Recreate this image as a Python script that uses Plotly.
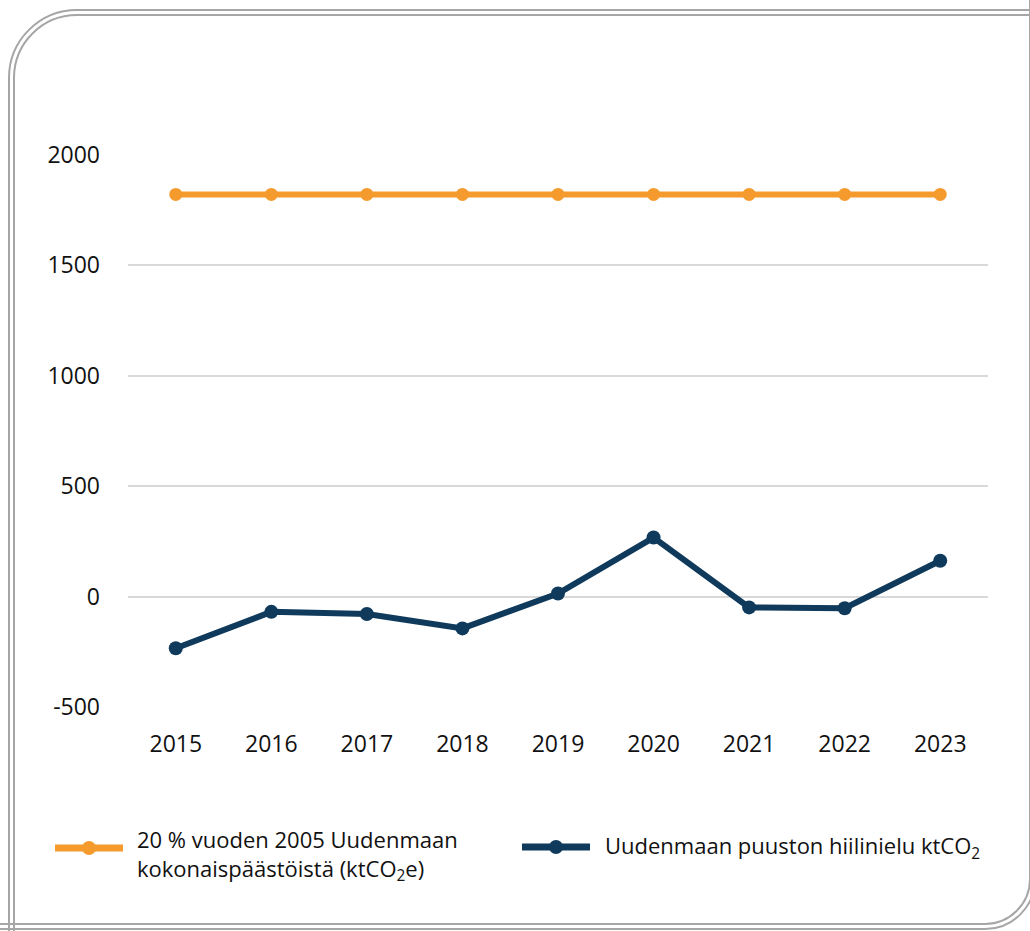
"""Uudenmaan puuston hiilinielu vs. 20 % vuoden 2005 kokonaispäästöistä."""

import plotly.graph_objects as go

# ── data ──
years = ["2015", "2016", "2017", "2018", "2019", "2020", "2021", "2022", "2023"]
target_20pct = [1820, 1820, 1820, 1820, 1820, 1820, 1820, 1820, 1820]
carbon_sink = [-233, -68, -78, -143, 15, 268, -48, -52, 163]
y_ticks = [-500, 0, 500, 1000, 1500, 2000]
y_ticktext = ["-500", "0", "500", "1000", "1500", "2000"]

name_target = "20 % vuoden 2005 Uudenmaan<br>kokonaispäästöistä (ktCO<sub>2</sub>e)"
name_sink = "Uudenmaan puuston hiilinielu ktCO<sub>2</sub>"

ORANGE = "#F59B2E"
NAVY = "#0F3A5C"
FONT = "Open Sans"
TEXT = "#111111"

# ── canvas / plot area in pixels ──
W, H = 1030, 931
L, R, T, B = 128, 42, 154, 223
PW, PH = W - L - R, H - T - B


def px(x):
    return (x - L) / PW


def py(y):
    return (H - B - y) / PH


fig = go.Figure()

fig.add_trace(go.Scatter(
    x=years, y=target_20pct, mode="lines+markers",
    line=dict(color=ORANGE, width=6),
    marker=dict(size=13, color=ORANGE),
    showlegend=False, name="20 %",
))
fig.add_trace(go.Scatter(
    x=years, y=carbon_sink, mode="lines+markers",
    line=dict(color=NAVY, width=6),
    marker=dict(size=14, color=NAVY),
    showlegend=False, name="hiilinielu",
))

shapes = []

# ── käsin tehty selite ──
for (x0, x1, yc, color) in [(55, 123, 848, ORANGE), (522, 590, 847, NAVY)]:
    shapes.append(dict(
        type="line", xref="paper", yref="paper",
        x0=px(x0), x1=px(x1), y0=py(yc), y1=py(yc),
        line=dict(color=color, width=7),
    ))
    cx = (x0 + x1) / 2
    rad = 7
    shapes.append(dict(
        type="circle", xref="paper", yref="paper",
        x0=px(cx - rad), x1=px(cx + rad), y0=py(yc + rad), y1=py(yc - rad),
        fillcolor=color, line=dict(color=color, width=0),
    ))

fig.add_annotation(
    x=px(135), y=py(855), xref="paper", yref="paper",
    text=name_target, showarrow=False, xanchor="left", yanchor="middle",
    align="left", font=dict(family=FONT, size=22, color=TEXT),
)
fig.add_annotation(
    x=px(603), y=py(847), xref="paper", yref="paper",
    text=name_sink, showarrow=False, xanchor="left", yanchor="middle",
    align="left", font=dict(family=FONT, size=22, color=TEXT),
)

# ── kaksoisreunus pyöristetyin kulmin ──
K = 0.5523


def border_path(off, r_tl, r_br):
    # vasen ylänurkka
    lx, ty = 9 + off, 10 + off
    bx, by = 985, 929 - off
    p = []
    p.append(f"M{px(lx)},{py(H + 10)}")
    p.append(f"L{px(lx)},{py(ty + r_tl)}")
    p.append(
        f"C{px(lx)},{py(ty + r_tl - K * r_tl)} "
        f"{px(lx + r_tl - K * r_tl)},{py(ty)} "
        f"{px(lx + r_tl)},{py(ty)}"
    )
    p.append(f"L{px(W + 10)},{py(ty)}")
    tl = " ".join(p)
    # oikea alanurkka
    q = []
    q.append(f"M{px(-10)},{py(by)}")
    q.append(f"L{px(bx)},{py(by)}")
    q.append(
        f"C{px(bx + K * r_br)},{py(by)} "
        f"{px(bx + r_br)},{py(by - r_br + K * r_br)} "
        f"{px(bx + r_br)},{py(by - r_br)}"
    )
    q.append(f"L{px(bx + r_br)},{py(-10)}")
    br = " ".join(q)
    return tl, br


for off, r_tl, r_br in [(0, 68, 50), (5, 63, 45)]:
    for path in border_path(off, r_tl, r_br):
        shapes.append(dict(
            type="path", xref="paper", yref="paper", path=path,
            line=dict(color="#a6a6a6", width=2), layer="above",
        ))

fig.update_layout(
    width=W, height=H,
    margin=dict(l=L, r=R, t=T, b=B),
    paper_bgcolor="white", plot_bgcolor="white",
    font=dict(family=FONT, size=24, color=TEXT),
    showlegend=False,
    shapes=shapes,
    xaxis=dict(
        type="category", range=[-0.5, len(years) - 0.5],
        showgrid=False, zeroline=False, showline=False,
        ticks="", ticklabelstandoff=20, tickfont=dict(size=23),
    ),
    yaxis=dict(
        range=[-503, 2003], tickvals=y_ticks, ticktext=y_ticktext, ticks="",
        showgrid=True, gridcolor="#d9d9d9", gridwidth=1.5,
        zeroline=False, showline=False, ticklabelstandoff=27,
        tickfont=dict(size=23),
    ),
)

fig.write_html(
    "out.html",
    config={"displayModeBar": False},
    post_script="document.body.style.margin='0';document.body.style.overflow='hidden';",
)
